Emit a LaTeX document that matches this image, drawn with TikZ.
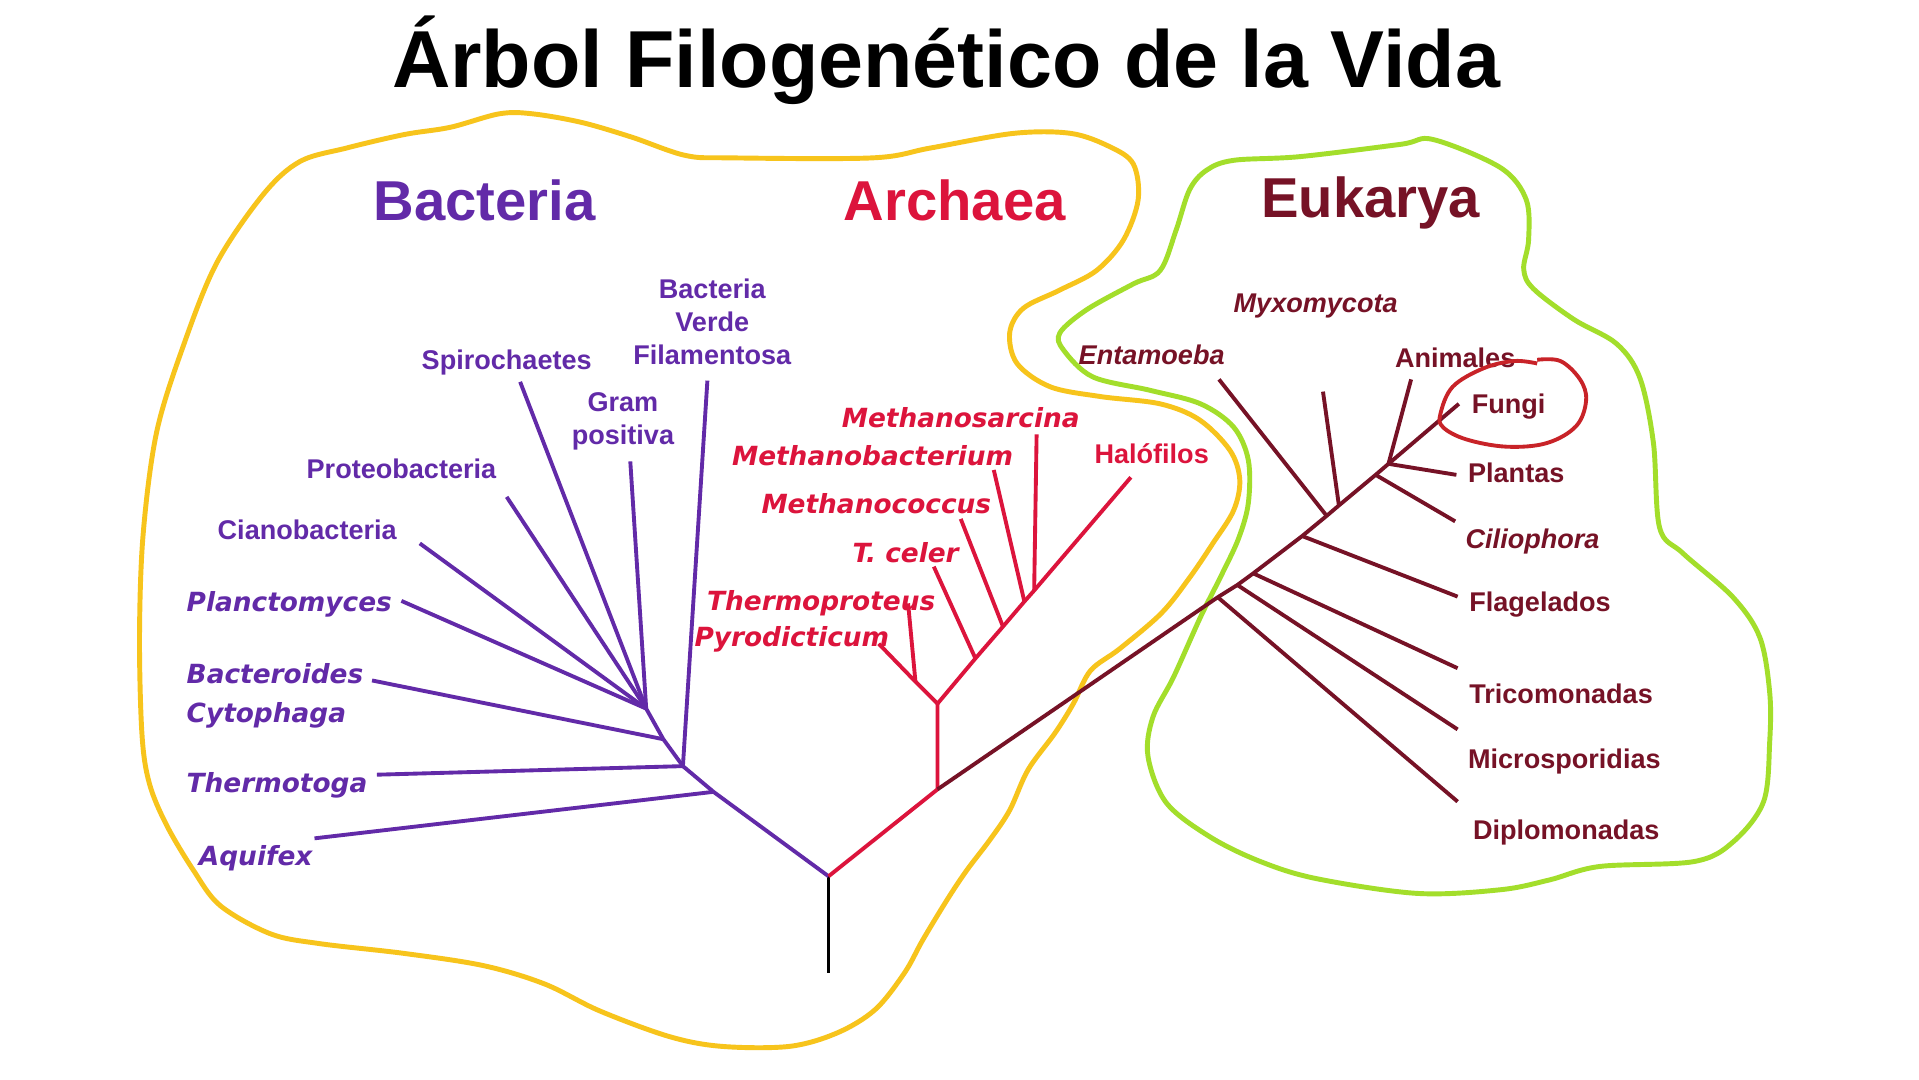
\documentclass[tikz,border=0pt]{standalone}
\usepackage{fontspec}
\setmainfont{Liberation Sans}
\newfontfamily\djv{DejaVu Sans}

\definecolor{bactpurple}{RGB}{98,42,168}
\definecolor{archred}{RGB}{220,20,60}
\definecolor{eukmaroon}{RGB}{118,18,38}
\definecolor{blobyellow}{RGB}{247,196,28}
\definecolor{blobgreen}{RGB}{163,222,43}
\definecolor{ringred}{RGB}{200,35,40}

\begin{document}
\begin{tikzpicture}[
        x=0.12239mm, y=-0.12239mm,
        line join=round,
        bact/.style={draw=bactpurple, line width=1.1pt},
        arch/.style={draw=archred, line width=1.1pt},
        euk/.style={draw=eukmaroon, line width=1.1pt},
        blob/.style={line width=1.4pt},
        lab/.style={font=\fontsize{7.7}{9.4}\selectfont\bfseries, inner sep=0pt, anchor=mid},
        itlab/.style={font=\djv\fontsize{7.5}{9}\selectfont\bfseries\itshape, inner sep=0pt, anchor=mid},
        eitlab/.style={font=\fontsize{7.7}{9.4}\selectfont\bfseries\itshape, inner sep=0pt, anchor=mid},
        domlabel/.style={font=\fontsize{16}{19}\selectfont\bfseries, inner sep=0pt, anchor=base},
    ]

    \fill[white] (0,0) rectangle (1568,882);
    \useasboundingbox (0,0) rectangle (1568,882);

    % Title
    \node[font=\fontsize{23}{27}\selectfont\bfseries, inner sep=0pt, anchor=base] (title) at (773,71.5) {Árbol Filogenético de la Vida};

    % === OUTLINES ===
    \draw[blobyellow, blob] plot[smooth cycle, tension=0.55] coordinates {
        (283,121) (330,110) (368,104) (408,93) (435,93) (475,100) (516,112) (560,127)
        (597,129) (713,129) (760,121) (828,109) (875,109) (907,120) (926,134) (930,163)
        (918,196) (896,221) (866,237) (836,252) (825,272) (831,297) (858,316) (899,324)
        (948,330) (980,343) (1005,368) (1013,392) (1008,417) (991,444) (972,472) (949,501)
        (915,530) (891,548) (877,575) (862,599) (840,629) (825,662) (809,686) (790,711)
        (774,735) (754,768) (739,795) (715,825) (684,844) (645,855) (590,855) (547,847)
        (490,826) (445,804) (395,789) (330,779) (261,771) (221,763) (180,740)
        (158,711) (136,674) (122,640) (116,600) (114,519) (117,436) (128,353) (150,282)
        (177,215) (215,159) (245,132)};
    \draw[blobgreen, blob] plot[smooth cycle, tension=0.55] coordinates {
        (1008,131) (1062,128) (1144,118) (1171,114) (1226,137) (1247,163) (1249,196) (1245,220)
        (1253,236) (1286,261) (1321,281) (1340,309) (1351,362) (1356,431) (1375,452) (1416,488)
        (1438,521) (1446,566) (1446,606) (1441,655) (1416,688) (1384,704) (1307,708) (1266,719)
        (1226,727) (1158,730) (1076,718) (1030,704) (989,684) (953,656) (938,618) (942,586)
        (959,553) (981,504) (998,470) (1012,440) (1020,411) (1020,376) (1008,349) (981,330)
        (940,319) (893,308) (869,286) (866,272) (888,253) (926,232) (948,221) (961,188)
        (972,155) (986,139)};

    % === BACTERIA ===
    \node[domlabel, text=bactpurple] (bactname) at (396,180) {Bacteria};

    \coordinate (root) at (677,716);
    \coordinate (stem) at (677,795);
    \coordinate (bA) at (583,647);
    \coordinate (bB) at (558,626);
    \coordinate (bC) at (542,604);
    \coordinate (bD) at (528,579);

    \coordinate (tAqu) at (257,685);
    \coordinate (tThe) at (308,633);
    \coordinate (tBac) at (304,556);
    \coordinate (tPlan) at (328,491);
    \coordinate (tCia) at (343,444);
    \coordinate (tPro) at (414,406);
    \coordinate (tSpi) at (425,312);
    \coordinate (tGra) at (515,377);
    \coordinate (tVer) at (578,311);

    \draw[black, line width=1.1pt] (root) -- (stem);
    \draw[bact] (root) -- (bA) -- (bB) -- (bC) -- (bD);
    \draw[bact] (bA) -- (tAqu);
    \draw[bact] (bB) -- (tThe);
    \draw[bact] (bB) -- (tVer);
    \draw[bact] (bC) -- (tBac);
    \foreach \t in {tPlan,tCia,tPro,tSpi,tGra}
        \draw[bact] (bD) -- (\t);

    \node[lab, text=bactpurple] (spiro) at (414,294) {Spirochaetes};
    \node[lab, text=bactpurple, align=center, anchor=center] (verde) at (582,263) {Bacteria\\Verde\\Filamentosa};
    \node[lab, text=bactpurple, align=center, anchor=center] (gram) at (509,344) {Gram\\positiva};
    \node[lab, text=bactpurple] (proteo) at (328,383) {Proteobacteria};
    \node[lab, text=bactpurple] (ciano) at (251,433) {Cianobacteria};
    \node[itlab, text=bactpurple, anchor=mid west] (plancto) at (152,492) {Planctomyces};
    \node[itlab, text=bactpurple, anchor=mid west] (bactero) at (152,551) {Bacteroides};
    \node[itlab, text=bactpurple, anchor=mid west] (cyto) at (152,583) {Cytophaga};
    \node[itlab, text=bactpurple, anchor=mid west] (thermo) at (152,640) {Thermotoga};
    \node[itlab, text=bactpurple, anchor=mid west] (aquif) at (162,700) {Aquifex};

    % === ARCHAEA ===
    \node[domlabel, text=archred] (archname) at (780,180) {Archaea};

    \coordinate (aBase) at (766,645);
    \coordinate (aA) at (766,575);
    \coordinate (aP) at (748,557);
    \coordinate (aT) at (797,538);
    \coordinate (aMc) at (819.5,512);
    \coordinate (aMb) at (837,491.5);
    \coordinate (aMs) at (845,482.5);

    \coordinate (tPyr) at (718,526);
    \coordinate (tTpr) at (742,493);
    \coordinate (tTce) at (763,463);
    \coordinate (tMco) at (785,424);
    \coordinate (tMba) at (812,384);
    \coordinate (tMsa) at (847,355);
    \coordinate (tHal) at (924,390);

    \draw[arch] (root) -- (aBase) -- (aA);
    \draw[arch] (aA) -- (aP) -- (tPyr);
    \draw[arch] (aP) -- (tTpr);
    \draw[arch] (aA) -- (aT) -- (aMc) -- (aMb) -- (aMs) -- (tHal);
    \draw[arch] (aT) -- (tTce);
    \draw[arch] (aMc) -- (tMco);
    \draw[arch] (aMb) -- (tMba);
    \draw[arch] (aMs) -- (tMsa);

    \node[itlab, text=archred] (msar) at (785,342) {Methanosarcina};
    \node[itlab, text=archred] (mbac) at (713,373) {Methanobacterium};
    \node[itlab, text=archred] (mcoc) at (716,412) {Methanococcus};
    \node[itlab, text=archred] (tcel) at (740,452) {T. celer};
    \node[itlab, text=archred] (tprot) at (671,491) {Thermoproteus};
    \node[itlab, text=archred] (pyro) at (647,521) {Pyrodicticum};
    \node[lab, text=archred] (halo) at (941,371) {Halófilos};

    % === EUKARYA ===
    \node[domlabel, text=eukmaroon] (eukname) at (1120,178) {Eukarya};

    \coordinate (e1) at (995,488);
    \coordinate (e2) at (1011,478);
    \coordinate (e3) at (1024,468.5);
    \coordinate (e4) at (1064,438);
    \coordinate (e5) at (1084,421.5);
    \coordinate (e6) at (1094,413);
    \coordinate (e7) at (1124,388);
    \coordinate (e8) at (1134.5,379);

    \coordinate (tFun) at (1192,330);
    \coordinate (tAni) at (1153,310);
    \coordinate (tPlant) at (1190,388);
    \coordinate (tCil) at (1189,426);
    \coordinate (tFla) at (1191,487.5);
    \coordinate (tTri) at (1191,546);
    \coordinate (tMic) at (1191,596);
    \coordinate (tDip) at (1191,655);
    \coordinate (tEnt) at (996,310);
    \coordinate (tMyx) at (1081,320);

    \draw[euk] (aBase) -- (e1) -- (e2) -- (e3) -- (e4) -- (e5) -- (e6) -- (e7) -- (e8) -- (tFun);
    \draw[euk] (e1) -- (tDip);
    \draw[euk] (e2) -- (tMic);
    \draw[euk] (e3) -- (tTri);
    \draw[euk] (e4) -- (tFla);
    \draw[euk] (e5) -- (tEnt);
    \draw[euk] (e6) -- (tMyx);
    \draw[euk] (e7) -- (tCil);
    \draw[euk] (e8) -- (tPlant);
    \draw[euk] (e8) -- (tAni);

    \node[eitlab, text=eukmaroon] (myxo) at (1075,248) {Myxomycota};
    \node[eitlab, text=eukmaroon] (entam) at (941,290) {Entamoeba};
    \node[lab, text=eukmaroon] (anim) at (1189,293) {Animales};
    \node[lab, text=eukmaroon, anchor=mid west] (fungi) at (1202,330) {Fungi};
    \node[lab, text=eukmaroon, anchor=mid west] (plant) at (1199,387) {Plantas};
    \node[eitlab, text=eukmaroon, anchor=mid west] (cilio) at (1197,441) {Ciliophora};
    \node[lab, text=eukmaroon, anchor=mid west] (flag) at (1200,492) {Flagelados};
    \node[lab, text=eukmaroon, anchor=mid west] (trico) at (1200,567) {Tricomonadas};
    \node[lab, text=eukmaroon, anchor=mid west] (micro) at (1199,620) {Microsporidias};
    \node[lab, text=eukmaroon, anchor=mid west] (diplo) at (1203,678) {Diplomonadas};

    % ring round Fungi
    \draw[ringred, line width=1.1pt] plot[smooth, tension=0.6] coordinates {
        (1256,294) (1275,295) (1291,310) (1296,327) (1288,348) (1264,362) (1231,365)
        (1198,359) (1179,349) (1177,338) (1187,316) (1212,301) (1237,295) (1256,297)};

\end{tikzpicture}
\end{document}
